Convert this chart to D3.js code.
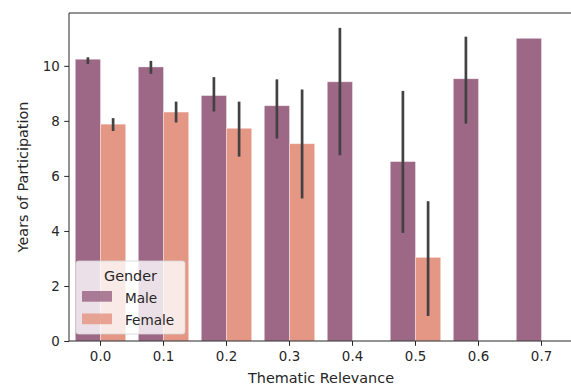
<!DOCTYPE html>
<html>
<head>
<meta charset="utf-8">
<script src="https://cdn.jsdelivr.net/npm/d3@7"></script>
<style>
  html, body { margin: 0; padding: 0; background: #fff; }
  svg { display: block; font-family: "DejaVu Sans", sans-serif; }
</style>
</head>
<body>
<svg id="chart" width="571" height="385"></svg>
<script>
// Thematic relevance categories along the x axis
const categories = ["0.0", "0.1", "0.2", "0.3", "0.4", "0.5", "0.6", "0.7"];
const genders = ["Male", "Female"];

// Mean years of participation per category (null = no data)
const maleMean   = [10.24, 9.96, 8.92, 8.55, 9.42, 6.52, 9.53, 11.0];
const femaleMean = [7.88, 8.32, 7.73, 7.17, null, 3.04, null, null];

// Confidence interval bounds [low, high] (null = no interval)
const maleCI   = [[10.07, 10.31], [9.71, 10.18], [8.34, 9.59], [7.36, 9.51], [6.75, 11.38], [3.93, 9.09], [7.90, 11.06], null];
const femaleCI = [[7.63, 8.10], [7.94, 8.70], [6.70, 8.70], [5.18, 9.14], null, [0.91, 5.08], null, null];

const yTicks = [0, 2, 4, 6, 8, 10];
const colors = { Male: "#9d6786", Female: "#e59785" };

const svg = d3.select("#chart");
const margin = { left: 69, right: -2, top: 13, bottom: 44 };
const W = 571, H = 385;
const x0 = margin.left, x1 = W - margin.right;
const y0 = H - margin.bottom, y1 = margin.top;

const x = d3.scaleBand().domain(categories).range([x0, x1]).paddingInner(0).paddingOuter(0);
const xh = d3.scaleBand().domain(genders).range([0, x.bandwidth()]).paddingInner(0).paddingOuter(0.25);
const y = d3.scaleLinear().domain([0, 11.92]).range([y0, y1]);

const rows = [];
categories.forEach((c, i) => {
  rows.push({ cat: c, g: "Male", v: maleMean[i], ci: maleCI[i] });
  rows.push({ cat: c, g: "Female", v: femaleMean[i], ci: femaleCI[i] });
});
const present = rows.filter(d => d.v != null);

// Bars
svg.append("g").selectAll("rect").data(present).join("rect")
  .attr("x", d => x(d.cat) + xh(d.g))
  .attr("width", xh.bandwidth())
  .attr("y", d => y(d.v))
  .attr("height", d => y(0) - y(d.v))
  .attr("fill", d => colors[d.g])
  .attr("stroke", "#ffffff")
  .attr("stroke-opacity", 0.45)
  .attr("stroke-width", 0.8);

// Error bars
svg.append("g").selectAll("line").data(present.filter(d => d.ci)).join("line")
  .attr("x1", d => x(d.cat) + xh(d.g) + xh.bandwidth() / 2)
  .attr("x2", d => x(d.cat) + xh(d.g) + xh.bandwidth() / 2)
  .attr("y1", d => y(d.ci[0]))
  .attr("y2", d => y(d.ci[1]))
  .attr("stroke", "#424242")
  .attr("stroke-width", 2.7);

// Axes
const tickFs = 13.4, legendFs = 13.6, labelFs = 14.4;
const xAxis = svg.append("g").attr("transform", `translate(0,${y0})`)
  .call(d3.axisBottom(x).tickSize(4.8).tickPadding(8));
const yAxis = svg.append("g").attr("transform", `translate(${x0},0)`)
  .call(d3.axisLeft(y).tickValues(yTicks).tickFormat(d3.format("d")).tickSize(4.8).tickPadding(4.5));
[xAxis, yAxis].forEach(a => {
  a.select(".domain").remove();
  a.selectAll(".tick line").attr("stroke", "#262626").attr("stroke-width", 1);
  a.selectAll(".tick text").attr("fill", "#262626").style("font-size", tickFs + "px")
    .style("font-family", "DejaVu Sans, sans-serif");
});
xAxis.selectAll(".tick text").attr("dy", "0.55em");

// Spines
const spines = svg.append("g").attr("stroke", "#262626").attr("stroke-width", 1).attr("fill", "none");
spines.append("line").attr("x1", x0).attr("x2", x0).attr("y1", y1).attr("y2", y0);
spines.append("line").attr("x1", x0).attr("x2", x1).attr("y1", y0).attr("y2", y0);
spines.append("line").attr("x1", x0).attr("x2", x1).attr("y1", y1).attr("y2", y1);
spines.append("line").attr("x1", x1).attr("x2", x1).attr("y1", y1).attr("y2", y0);

// Axis labels
svg.append("text").attr("x", 321).attr("y", 382.5)
  .attr("text-anchor", "middle").attr("fill", "#262626").style("font-size", labelFs + "px")
  .text("Thematic Relevance");
svg.append("text").attr("transform", `translate(28,${(y0 + y1) / 2}) rotate(-90)`)
  .attr("text-anchor", "middle").attr("fill", "#262626").style("font-size", labelFs + "px")
  .text("Years of Participation");

// Legend
const lg = svg.append("g").attr("transform", "translate(76,261)");
lg.append("rect").attr("width", 109).attr("height", 73).attr("rx", 2.5)
  .attr("fill", "#ffffff").attr("fill-opacity", 0.8)
  .attr("stroke", "#d6d6d6").attr("stroke-width", 0.8);
lg.append("text").attr("x", 54.5).attr("y", 19.5).attr("text-anchor", "middle")
  .attr("fill", "#262626").style("font-size", labelFs + "px").text("Gender");
genders.forEach((g, i) => {
  lg.append("rect").attr("x", 6).attr("y", 30 + i * 22.5).attr("width", 30).attr("height", 10.7)
    .attr("fill", colors[g]).attr("fill-opacity", 0.85);
  lg.append("text").attr("x", 49).attr("y", 41.7 + i * 22.3)
    .attr("fill", "#262626").style("font-size", legendFs + "px").text(g);
});
</script>
</body>
</html>
